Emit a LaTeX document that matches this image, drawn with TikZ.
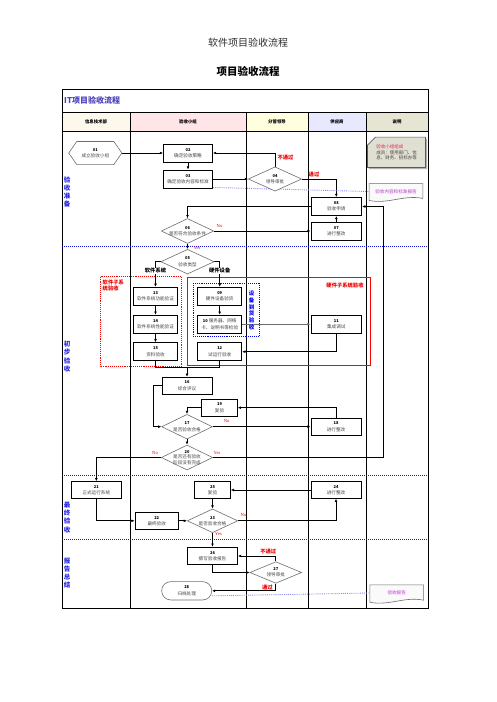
\documentclass[tikz,border=0pt]{standalone}
\usepackage{fontspec}
\setmainfont{Noto Sans CJK SC}
\newfontfamily\serifl{Liberation Serif}
\usetikzlibrary{arrows.meta,shapes.geometric,calc}
\pgfdeclarelayer{bgl}\pgfdeclarelayer{midl}
\pgfsetlayers{bgl,midl,main}
\definecolor{txtgray}{RGB}{70,70,70}
\definecolor{diagray}{RGB}{110,110,110}
\definecolor{phaseblue}{RGB}{40,40,230}
\definecolor{sepblue}{RGB}{20,20,225}
\definecolor{linkblue}{RGB}{140,140,240}
\definecolor{notepurple}{RGB}{185,60,200}
\definecolor{notered}{RGB}{225,40,90}
\definecolor{hdra}{RGB}{253,248,236}
\definecolor{hdrb}{RGB}{255,228,232}
\definecolor{hdrc}{RGB}{255,255,224}
\definecolor{hdrd}{RGB}{232,232,255}
\definecolor{hdre}{RGB}{230,228,210}
\definecolor{notefill}{RGB}{224,224,210}
\definecolor{notebord}{RGB}{90,90,90}
\definecolor{docfill}{RGB}{250,250,250}
\definecolor{titlegray}{RGB}{45,45,45}
\definecolor{linegray}{RGB}{110,110,110}
\definecolor{titleblue}{RGB}{75,65,190}
\definecolor{lblred}{RGB}{235,0,0}
\newcommand\ndfont{\fontsize{4.6}{6.2}\selectfont}
\newcommand\hdfont{\fontsize{4.4}{5}\selectfont\bfseries}
\newcommand\phfont{\fontsize{6.5}{8.2}\selectfont\bfseries}
\newcommand\ynfont{\serifl\fontsize{4.6}{5}\selectfont}
\newcommand\pfont{\fontsize{5.3}{6}\selectfont\bfseries}
\newcommand\nmb[1]{{\fontsize{4}{5.5}\selectfont\bfseries\color{black}#1}}
\begin{document}
\begin{tikzpicture}[x=1pt,y=-1pt,
  procbox/.style={draw=black, line width=0.9pt, fill=white, inner sep=0pt, minimum height=18pt, minimum width=#1, align=center, font=\ndfont, text=txtgray},
  decbox/.style 2 args={diamond, draw=diagray, line width=0.6pt, fill=white, inner sep=0pt, minimum width=#1, minimum height=#2},
  dtext/.style={align=center, font=\ndfont, text=txtgray, inner sep=0pt},
  arr/.style={-{Latex[length=3.2pt,width=2.8pt]}, line width=0.8pt, black},
  ln/.style={line width=0.8pt, black},
  redlab/.style={text=lblred, font=\pfont, inner sep=0pt},
  yn/.style={text=lblred, font=\ynfont, inner sep=0pt},
  phase/.style={text=phaseblue, font=\phfont, align=center, inner sep=0pt},
  hdr/.style={font=\hdfont, inner sep=0pt},
  linkdot/.style={linkblue, densely dotted, line width=0.9pt},
  sepline/.style={sepblue, densely dotted, line width=1pt}
]
\useasboundingbox (0,0) rectangle (496,702);
\begin{pgfonlayer}{bgl}
\fill[white] (0,0) rectangle (496,702);
\fill[hdra] (62,112) rectangle (130,131);
\fill[hdrb] (130,112) rectangle (246,131);
\fill[hdrc] (246,112) rectangle (308,131);
\fill[hdrd] (308,112) rectangle (366,131);
\fill[hdre] (366,112) rectangle (428,131);
\draw[line width=0.9pt] (62,89) rectangle (428,608);
\draw[line width=0.9pt] (62,112) -- (428,112);
\draw[line width=0.9pt] (62,131) -- (428,131);
\foreach \x in {130,246,308,366} \draw[line width=0.9pt] (\x,112) -- (\x,608);
\draw[sepline] (62,246) -- (428,246);
\draw[sepline] (62,475.5) -- (428,475.5);
\draw[sepline] (62,539.5) -- (428,539.5);
\end{pgfonlayer}

% titles
\node[font=\fontsize{10}{12}\selectfont, text=titlegray] (title) at (248,42.5) {软件项目验收流程};
\node[font=\fontsize{10.5}{12}\selectfont\bfseries] (subtitle) at (248,71.7) {项目验收流程};
\node[anchor=west, text=titleblue, font=\fontsize{8}{9}\selectfont\bfseries, inner sep=0pt] (ittitle) at (64,100.5) {IT项目验收流程};
\node[hdr] (h1) at (96,121.5) {信息技术部};
\node[hdr] (h2) at (188,121.5) {验收小组};
\node[hdr] (h3) at (277,121.5) {分管领导};
\node[hdr] (h4) at (337,121.5) {供应商};
\node[hdr] (h5) at (397,121.5) {说明};

% phase labels
\node[phase] (ph1) at (67,192) {验\\收\\准\\备};
\node[phase] (ph2) at (67,356.5) {初\\步\\验\\收};
\node[phase] (ph3) at (67,517.5) {最\\终\\验\\收};
\node[phase] (ph4) at (67,573) {报\\告\\总\\结};

% group boxes
\begin{pgfonlayer}{midl}
\draw[red, densely dotted, line width=0.9pt] (100.7,276.7) rectangle (181.7,366);
\draw[red, line width=0.9pt] (187.7,277.3) rectangle (370,365.7);
\draw[blue, densely dotted, line width=0.9pt] (193.3,283) rectangle (259,336.3);
\end{pgfonlayer}
\node[redlab, align=left, anchor=north west] (swlab) at (102.5,279.5) {软件子系\\统验收};
\node[redlab] (hwlab) at (345,285) {硬件子系统验收};
\node[text=blue, font=\fontsize{5.5}{6.8}\selectfont\bfseries, align=center, inner sep=0pt] (eqlab) at (251.5,310.5) {设\\备\\到\\货\\验\\收};

% nodes
\node[inner sep=0pt, minimum width=52.7pt, minimum height=22.7pt, align=center, font=\ndfont, text=txtgray] (n01) at (95.3,153) {\nmb{01}\\成立验收小组};
\draw[diagray, line width=0.6pt] (n01.west) -- ($(n01.north west)+(8,0)$) -- ($(n01.north east)+(-8,0)$) -- (n01.east) -- ($(n01.south east)+(-8,0)$) -- ($(n01.south west)+(8,0)$) -- cycle;
\node[procbox=49] (n02) at (188,153) {\nmb{02}\\确定验收策略};
\node[procbox=49] (n03) at (188,179) {\nmb{03}\\确定验收内容和标准};
\node[decbox={53.4pt}{24.3pt}, label={[dtext]center:{\nmb{04}\\领导审批}}] (n04) at (275,179) {};
\node[procbox=50.7] (n08) at (336.3,206.5) {\nmb{08}\\验收申请};
\node[procbox=50.7] (n07) at (336.3,231) {\nmb{07}\\进行整改};
\node[decbox={52.3pt}{25pt}, label={[dtext]center:{\nmb{06}\\是否符合验收条件}}] (n06) at (187.5,231) {};
\node[decbox={53.3pt}{24.7pt}, label={[dtext]center:{\nmb{05}\\验收类型}}] (n05) at (187.5,261.7) {};
\node[procbox=44.4] (n13) at (155.5,296.3) {\nmb{13}\\软件系统功能验证};
\node[procbox=44.4] (n14) at (155.5,324.2) {\nmb{14}\\软件系统性能验证};
\node[procbox=44.4] (n15) at (155.5,351.7) {\nmb{15}\\资料验收};
\node[procbox=44] (n09) at (219.7,296.3) {\nmb{09}\\硬件设备验货};
\node[procbox=44] (n10) at (219.7,324.2) {\nmb{10} 服务器、网络\\卡、说明书等检验};
\node[procbox=44] (n12) at (219.7,351.7) {\nmb{12}\\试运行验收};
\node[procbox=50.7] (n11) at (336.3,324.2) {\nmb{11}\\集成调试};
\node[procbox=50, minimum height=17pt] (n16) at (187,385.8) {\nmb{16}\\综合评议};
\node[procbox=35.6, minimum height=16.7pt] (n19) at (219.5,407.7) {\nmb{19}\\复验};
\node[decbox={50.7pt}{24.7pt}, label={[dtext]center:{\nmb{17}\\是否验收合格}}] (n17) at (187,426.7) {};
\node[procbox=50, minimum height=17.4pt] (n18) at (336,426.7) {\nmb{18}\\进行整改};
\node[decbox={51.3pt}{25pt}, label={[dtext, font=\fontsize{4.6}{5.6}\selectfont]center:{\nmb{20}\\是否还有验收\\阶段没有完成}}] (n20) at (187,457.5) {};
\node[procbox=50.7, minimum height=16.6pt] (n21) at (96.3,490) {\nmb{21}\\正式运行系统};
\node[procbox=35.7, minimum height=16.6pt] (n25) at (212.5,490) {\nmb{25}\\复验};
\node[procbox=50, minimum height=16.6pt] (n24) at (336,490) {\nmb{24}\\进行整改};
\node[procbox=43.3, minimum height=17pt] (n22) at (156.7,520.8) {\nmb{22}\\最终验收};
\node[decbox={50.6pt}{23.7pt}, label={[dtext]center:{\nmb{23}\\是否验收合格}}] (n23) at (212.5,520.8) {};
\node[procbox=50, minimum height=17.7pt] (n26) at (212.5,556) {\nmb{26}\\撰写验收报告};
\node[decbox={51.7pt}{21.6pt}, label={[dtext]center:{\nmb{27}\\领导审批}}] (n27) at (275.8,572.5) {};
\node[procbox=50, draw=diagray, line width=0.6pt, rounded corners=9pt, minimum height=18.3pt] (n28) at (186.7,590.8) {\nmb{28}\\归档处理};

% notes
\node[inner sep=0pt, minimum width=57.7pt, minimum height=30pt, align=left, font=\fontsize{4.5}{5.4}\selectfont, text=txtgray] (note1) at (396.5,152.3) {\textcolor{notered}{验收小组组成}\\成员：使用部门、信\\息、财务、招标办等};
\node[inner sep=0pt, minimum width=53.4pt, minimum height=15.5pt, font=\ndfont, text=notepurple] (note2) at (396,191.5) {验收内容和标准报告};
\node[inner sep=0pt, minimum width=53.4pt, minimum height=16pt, font=\ndfont, text=notepurple] (note3) at (396.7,593) {验收报告};
\begin{pgfonlayer}{midl}
\fill[gray!60] ($(note1.north west)+(1.5,9.5)$) -- ($(note1.north west)+(9.5,1.5)$) -- ($(note1.north east)+(1.5,1.5)$) -- ($(note1.south east)+(1.5,1.5)$) -- ($(note1.south west)+(1.5,1.5)$) -- cycle;
\draw[fill=notefill, draw=notebord, line width=0.7pt] ($(note1.north west)+(0,8)$) -- ($(note1.north west)+(8,0)$) -- (note1.north east) -- (note1.south east) -- (note1.south west) -- cycle;
\draw[fill=docfill, draw=diagray, line width=0.6pt] (note2.north west) -- (note2.north east) -- ($(note2.south east)+(0,-1)$) .. controls ($(note2.south)+(8,-5)$) and ($(note2.south)+(-8,5)$) .. ($(note2.south west)+(0,1)$) -- cycle;
\draw[fill=docfill, draw=diagray, line width=0.6pt] (note3.north west) -- (note3.north east) -- ($(note3.south east)+(0,-1)$) .. controls ($(note3.south)+(8,-5)$) and ($(note3.south)+(-8,5)$) .. ($(note3.south west)+(0,1)$) -- cycle;

% connectors
\draw[arr] (n01.east) -- (n02.west);
\draw[arr] (n02.south) -- (n03.north);
\draw[arr] (n03.east) -- (n04.west);
\draw[arr] (n04.north) |- (n02.east);
\draw[arr] (n04.east) -| (n08.north);
\draw[arr] (n07.north) -- (n08.south);
\draw[arr] (n08.west) -| (n06.north);
\draw[arr] (n06.east) -- (n07.west);
\draw[arr] (n06.south) -- (n05.north);
\draw[arr] (n05.west) -| (n13.north);
\draw[arr] (n05.east) -| (n09.north);
\draw[arr] (n13.south) -- (n14.north);
\draw[arr] (n14.south) -- (n15.north);
\draw[arr] (n09.south) -- (n10.north);
\draw[arr, linegray] (n10.east) -- (n11.west);
\draw[arr] (n11.south) |- (n12.east);
\coordinate (j1) at (187,367);
\draw[ln] (n15.south) |- (j1);
\draw[ln] (n12.south) |- (j1);
\draw[arr] (j1) -- (n16.north);
\draw[arr] (n16.west) -- ++(-8,0) |- (n17.west);
\draw[arr] (n19.west) -| (n17.north);
\draw[arr] (n17.east) -- (n18.west);
\draw[arr] (n18.north) |- (n19.east);
\draw[arr] (n17.south) -- (n20.north);
\draw[arr] (n20.west) -| (n21.north);
\draw[arr] (n20.east) -| ($(n08.east)+(21.5,0)$) -- (n08.east);
\draw[arr] (n21.south) |- (n22.west);
\draw[arr] (n22.east) -- (n23.west);
\draw[arr] (n23.east) -| (n24.south);
\draw[arr] (n24.west) -- (n25.east);
\draw[arr] (n25.south) -- (n23.north);
\draw[arr] (n23.south) -- (n26.north);
\draw[arr] (n26.south) |- (n27.west);
\draw[arr] (n27.north) |- (n26.east);
\draw[arr] (n27.south) |- (n28.east);
\draw[linkdot] ($(n03.south east)+(0,-1)$) -- (note2.west);
\draw[linkdot] ($(n28.east)+(0,5)$) -- (note3.west);
\end{pgfonlayer}

% connector labels
\node[fill=white, font=\pfont, inner sep=0.5pt] (lsw) at (155.5,270.7) {软件系统};
\node[fill=white, font=\pfont, inner sep=0.5pt] (lhw) at (219.7,270.7) {硬件设备};
\node[redlab] (l04a) at (285.5,157.3) {不通过};
\node[redlab] (l04b) at (314,174.3) {通过};
\node[yn] (l06n) at (219.5,226.5) {No};
\node[yn] (l06y) at (197,248.3) {Yes};
\node[yn] (l17n) at (226.7,420.7) {No};
\node[yn] (l20n) at (155,452.7) {No};
\node[yn] (l20y) at (217,452.7) {Yes};
\node[yn] (l23n) at (243.5,515) {No};
\node[yn] (l23y) at (218.5,534) {Yes};
\node[redlab] (l27a) at (268.3,551.7) {不通过};
\node[redlab] (l27b) at (267.3,587.7) {通过};
\end{tikzpicture}
\end{document}
